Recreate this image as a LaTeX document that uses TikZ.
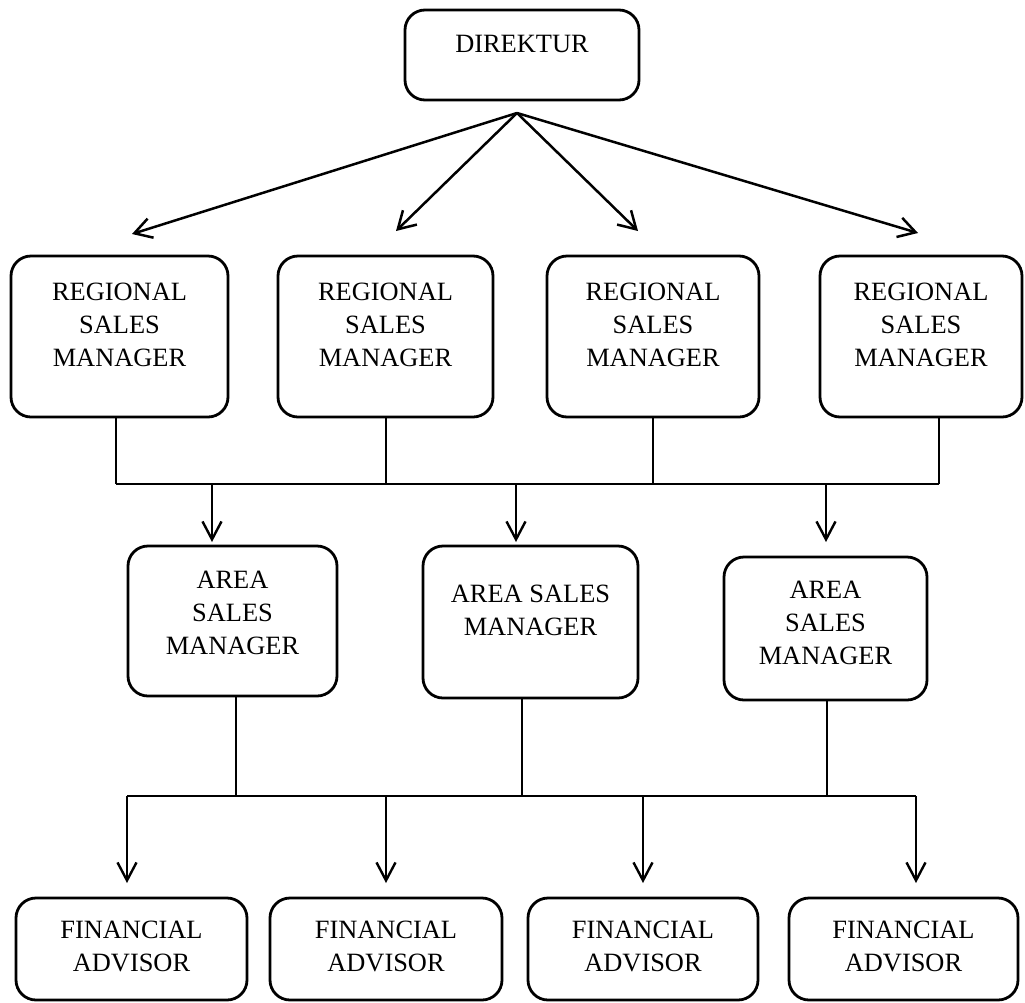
\documentclass[tikz,border=0pt]{standalone}
\usepackage{fontspec}
\setmainfont{Liberation Serif}
\usetikzlibrary{arrows.meta}
\tikzset{box/.style={draw,line width=2.8pt,rounded corners=20pt,inner sep=0pt},
         lbl/.style={align=center,inner sep=0pt,font=\fontsize{26.4}{33}\selectfont},
         bus/.style={line width=1.3pt},
         down/.style={line width=2.4pt,-{Straight Barb[length=18pt,width=19pt]}},
         fan/.style={line width=2.5pt,-{Straight Barb[length=17pt,width=20pt]}}}

\begin{document}
\begin{tikzpicture}[x=1pt,y=-1pt]
\useasboundingbox (0,0) rectangle (1025,1002);
% direktur
\node[box,minimum width=234,minimum height=90] (dir) at (522,55) {};
\node[lbl] (dirt) at ([yshift=11pt]dir.center) {DIREKTUR};
\coordinate (apex) at (517,113);
% regional sales managers
\foreach \n/\x/\w/\tx/\ty/\bx in {1/119.5/217/132/234/116,2/385.5/215/396/231/386,3/653/212/638/231/653,4/921/202/918/233/939}{
  \node[box,minimum width=\w,minimum height=161] (rsm\n) at (\x,336.5) {};
  \node[lbl] (rsmt\n) at ([yshift=11.5pt]rsm\n.center) {REGIONAL\\SALES\\MANAGER};
  \coordinate (tip\n) at (\tx,\ty);
  \coordinate (b\n) at (\bx,484);
  \draw[fan] (apex) -- (tip\n);
  \draw[bus] (rsm\n.south -| b\n) -- (b\n);
}
\draw[bus] (b1) -- (b4);
% area sales managers
\foreach \n/\x/\y/\w/\h/\dy/\txt/\ax/\cx in {1/232.5/621/209/150/8.5/{AREA\\SALES\\MANAGER}/212/236,2/530.5/622/215/152/11.5/{AREA SALES\\MANAGER}/516/522,3/825.5/628.5/203/143/6/{AREA\\SALES\\MANAGER}/826/827}{
  \node[box,minimum width=\w,minimum height=\h] (asm\n) at (\x,\y) {};
  \node[lbl] (asmt\n) at ([yshift=\dy pt]asm\n.center) {\txt};
  \coordinate (ab\n) at (\ax,484);
  \coordinate (atip\n) at (\ax,542);
  \draw[down] (ab\n) -- (atip\n);
  \coordinate (c\n) at (\cx,796);
  \draw[bus] (asm\n.south -| c\n) -- (c\n);
}
% financial advisors
\foreach \n/\x/\w/\dx in {1/131.5/231/127,2/386/232/386,3/643/230/643,4/903.5/229/916}{
  \node[box,minimum width=\w,minimum height=102] (fa\n) at (\x,949) {};
  \node[lbl] (fat\n) at ([yshift=2.5pt]fa\n.center) {FINANCIAL\\ADVISOR};
  \coordinate (d\n) at (\dx,796);
  \coordinate (ftip\n) at (\dx,883);
  \draw[down] (d\n) -- (ftip\n);
}
\draw[bus] (d1) -- (d4);
\end{tikzpicture}
\end{document}
